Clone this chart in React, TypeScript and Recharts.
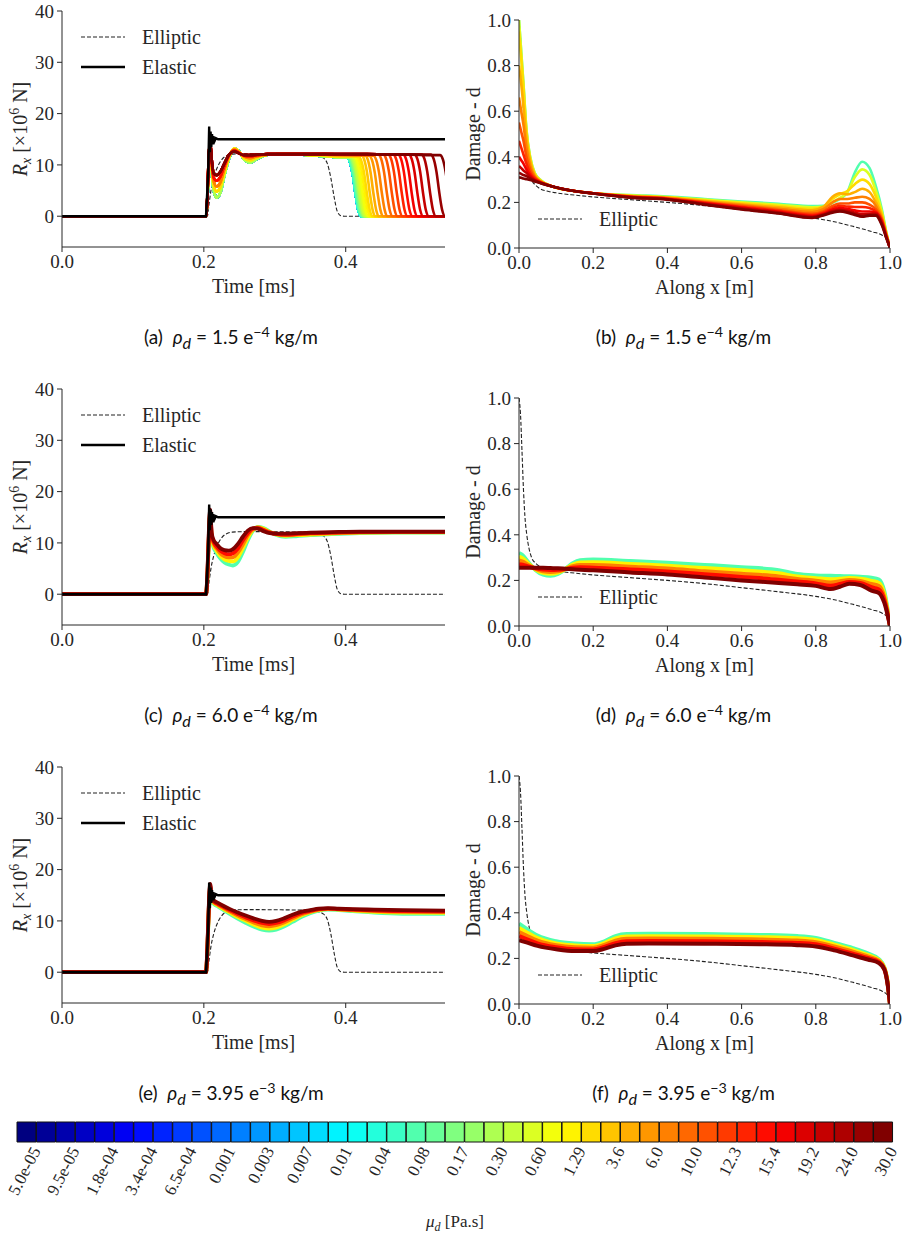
import React from "react";
import { LineChart, Line, XAxis, YAxis, BarChart, Bar, Cell } from "recharts";

const SERIF = '"Liberation Serif", "DejaVu Serif", serif';
const SANS = 'Lato, "Noto Sans", sans-serif';
const INK = "#262626";

// ---------- reaction force panels (a), (c), (e) ----------
const tElastic = [0, 0.2, 0.203, 0.206, 0.2075, 0.2085, 0.2095, 0.2105, 0.2115, 0.2125, 0.2135, 0.215, 0.217, 0.22, 0.23, 0.54];
const rxElastic = [0, 0, 0, 8, 17.5, 12.5, 16.5, 13.5, 16, 14, 15.6, 14.6, 15.2, 15, 15, 15];

const tElliptic = [0, 0.205, 0.207, 0.21, 0.214, 0.218, 0.224, 0.232, 0.24, 0.26, 0.34, 0.36, 0.368, 0.374, 0.379, 0.384, 0.388, 0.393, 0.398, 0.54];
const rxElliptic = [0, 0, 2, 5, 7.5, 9.2, 10.8, 11.8, 12.1, 12.2, 12.1, 11.8, 11.4, 10.3, 7.5, 3.5, 1, 0.1, 0, 0];

// (a): profile per colour group, then each curve falls off at its own time
const tA = [0, 0.2, 0.203, 0.205, 0.207, 0.209, 0.211, 0.214, 0.218, 0.223, 0.229, 0.236, 0.243, 0.25, 0.257, 0.265, 0.275, 0.29, 0.31, 0.34, 0.37, 0.4, 0.43, 0.46, 0.49, 0.52, 0.54];
const rxA0 = [0, 0, 0, 3, 10, 13.5, 9, 5, 3.6, 4.5, 8, 11.5, 13.2, 12.6, 11, 10.5, 11.2, 12, 12.1, 12, 11.7, 11.4, 11.2, 11.2, 11.1, 11.1, 11.1];
const rxA1 = [0, 0, 0, 3.5, 11, 14, 9.8, 6, 4.8, 5.6, 8.6, 11.7, 13.2, 12.5, 11.3, 10.9, 11.5, 12, 12.1, 12, 11.8, 11.6, 11.5, 11.4, 11.4, 11.3, 11.3];
const rxA2 = [0, 0, 0, 3.7, 11.5, 14.2, 10.3, 6.8, 5.8, 6.5, 9.2, 11.9, 13, 12.4, 11.6, 11.3, 11.7, 12, 12.1, 12.1, 12, 11.9, 11.8, 11.8, 11.7, 11.7, 11.7];
const rxA3 = [0, 0, 0, 4, 12, 14.4, 10.8, 7.5, 6.9, 7.6, 9.9, 12, 12.8, 12.3, 11.8, 11.7, 11.9, 12.1, 12.1, 12.1, 12.1, 12, 12, 12, 11.9, 11.9, 11.9];
const rxA4 = [0, 0, 0, 4, 12, 14.5, 11.2, 8.3, 8, 8.6, 10.3, 12.1, 12.6, 12.2, 11.9, 11.9, 12, 12.1, 12.1, 12.1, 12.1, 12.1, 12.1, 12, 12, 11.9, 11.8];
const groupA = [
  0, 0, 0, 0, 0, 0, 0, 0, 0, 0, 0, 0, 0, 0, 0, 0, 0, 0, 0, 0, 0, 0, 0, 0, 0,
  1, 1, 1, 1, 1, 2, 2, 2, 2, 3, 3, 3, 3, 3, 4, 4, 4, 4, 4, 4,
];
const dropA = [
  0.402, 0.402, 0.402, 0.402, 0.402, 0.402, 0.402, 0.402, 0.402, 0.402,
  0.402, 0.402, 0.402, 0.402, 0.402, 0.402, 0.402, 0.402, 0.402, 0.402,
  0.403, 0.404, 0.405, 0.406, 0.407, 0.408, 0.41, 0.412, 0.415, 0.418,
  0.422, 0.427, 0.433, 0.439, 0.446, 0.453, 0.46, 0.467, 0.474, 0.481,
  0.489, 0.497, 0.507, 0.52, 0.533,
];
const dropOff = [0, 0.004, 0.008, 0.012, 0.016, 0.02];
const dropFrac = [1, 0.93, 0.72, 0.38, 0.1, 0];

// (c)
const tC = [0, 0.2, 0.203, 0.205, 0.207, 0.209, 0.211, 0.214, 0.218, 0.223, 0.229, 0.235, 0.241, 0.248, 0.255, 0.262, 0.269, 0.276, 0.284, 0.293, 0.303, 0.315, 0.33, 0.35, 0.38, 0.42, 0.47, 0.54];
const rxC20 = [0, 0, 0, 3, 10, 15.5, 10.5, 9, 8, 7, 6.2, 5.8, 5.6, 6.3, 8.2, 10.5, 12.3, 13.1, 12.9, 12.2, 11.5, 11.2, 11.3, 11.5, 11.7, 11.9, 12, 12];
const rxC28 = [0, 0, 0, 3.2, 10.5, 15.7, 10.9, 9.4, 8.5, 7.5, 6.8, 6.5, 6.4, 7.2, 9, 11, 12.5, 13, 12.8, 12.1, 11.6, 11.4, 11.5, 11.6, 11.8, 12, 12.05, 12.05];
const rxC33 = [0, 0, 0, 3.5, 11, 16, 11.2, 9.8, 8.9, 8, 7.4, 7.2, 7.2, 8.1, 9.7, 11.5, 12.6, 13, 12.6, 12.1, 11.7, 11.5, 11.6, 11.8, 11.9, 12.05, 12.1, 12.1];
const rxC38 = [0, 0, 0, 3.8, 11.5, 16.2, 11.6, 10.1, 9.3, 8.5, 8, 7.8, 8, 8.9, 10.5, 11.9, 12.8, 12.9, 12.5, 12, 11.7, 11.6, 11.7, 11.9, 12, 12.1, 12.15, 12.15];
const rxC44 = [0, 0, 0, 4, 12, 16.5, 12, 10.5, 9.8, 9, 8.6, 8.5, 8.8, 9.8, 11.2, 12.4, 12.9, 12.8, 12.3, 11.9, 11.8, 11.8, 11.9, 12, 12.1, 12.2, 12.2, 12.2];

// (e)
const tE = [0, 0.2, 0.203, 0.205, 0.207, 0.209, 0.211, 0.214, 0.22, 0.228, 0.237, 0.247, 0.258, 0.27, 0.282, 0.292, 0.302, 0.313, 0.325, 0.338, 0.35, 0.362, 0.375, 0.39, 0.41, 0.44, 0.48, 0.54];
const rxE20 = [0, 0, 0, 4, 12, 16, 13.8, 13.3, 12.8, 12.1, 11.3, 10.5, 9.7, 8.9, 8.3, 8.1, 8.3, 8.9, 9.8, 10.8, 11.5, 12, 12.2, 12.1, 11.9, 11.6, 11.4, 11.4];
const rxE28 = [0, 0, 0, 4.25, 12.25, 16.3, 14, 13.5, 13, 12.3, 11.6, 10.8, 10.1, 9.3, 8.7, 8.5, 8.7, 9.3, 10.2, 11.1, 11.7, 12.1, 12.3, 12.2, 12, 11.75, 11.6, 11.55];
const rxE33 = [0, 0, 0, 4.5, 12.5, 16.6, 14.15, 13.65, 13.15, 12.5, 11.8, 11.1, 10.4, 9.7, 9.15, 8.95, 9.15, 9.7, 10.5, 11.3, 11.8, 12.2, 12.35, 12.25, 12.1, 11.9, 11.75, 11.7];
const rxE38 = [0, 0, 0, 4.75, 12.75, 16.9, 14.3, 13.8, 13.3, 12.7, 12.05, 11.4, 10.75, 10.1, 9.6, 9.4, 9.6, 10.1, 10.85, 11.55, 11.95, 12.3, 12.4, 12.3, 12.2, 12.05, 11.9, 11.85];
const rxE44 = [0, 0, 0, 5, 13, 17.2, 14.5, 14, 13.5, 12.9, 12.3, 11.7, 11.1, 10.5, 10, 9.8, 10, 10.5, 11.2, 11.8, 12.1, 12.4, 12.5, 12.4, 12.3, 12.2, 12.1, 12];

// ---------- damage panels (b), (d), (f) ----------
const xElliptic = [0, 0.004, 0.008, 0.012, 0.016, 0.021, 0.027, 0.034, 0.045, 0.057, 0.08, 0.1, 0.15, 0.2, 0.3, 0.4, 0.5, 0.6, 0.7, 0.8, 0.85, 0.9, 0.95, 0.98, 0.995, 1.0];
const dElliptic = [1.0, 0.93, 0.77, 0.6, 0.48, 0.4, 0.34, 0.3, 0.275, 0.26, 0.248, 0.242, 0.232, 0.224, 0.212, 0.2, 0.186, 0.168, 0.15, 0.13, 0.115, 0.095, 0.072, 0.055, 0.035, 0];

const xB = [0, 0.006, 0.012, 0.02, 0.03, 0.042, 0.06, 0.09, 0.14, 0.2, 0.3, 0.4, 0.5, 0.6, 0.7, 0.79, 0.82, 0.845, 0.865, 0.885, 0.905, 0.925, 0.945, 0.962, 0.978, 0.99, 1.0];
const dB20 = [1.0, 0.86, 0.72, 0.52, 0.4, 0.33, 0.295, 0.27, 0.252, 0.24, 0.232, 0.226, 0.215, 0.204, 0.194, 0.184, 0.185, 0.198, 0.215, 0.245, 0.33, 0.378, 0.35, 0.27, 0.17, 0.07, 0];
const dB26 = [1.0, 0.86, 0.72, 0.52, 0.4, 0.33, 0.295, 0.27, 0.252, 0.24, 0.231, 0.224, 0.212, 0.2, 0.19, 0.179, 0.181, 0.2, 0.22, 0.245, 0.31, 0.345, 0.32, 0.25, 0.16, 0.068, 0];
const dB29 = [0.95, 0.83, 0.7, 0.51, 0.39, 0.325, 0.293, 0.27, 0.252, 0.24, 0.229, 0.222, 0.209, 0.196, 0.184, 0.172, 0.18, 0.215, 0.235, 0.25, 0.28, 0.3, 0.28, 0.225, 0.15, 0.065, 0];
const dB31 = [0.8, 0.72, 0.62, 0.48, 0.38, 0.32, 0.29, 0.27, 0.252, 0.24, 0.228, 0.22, 0.206, 0.192, 0.178, 0.165, 0.18, 0.225, 0.24, 0.235, 0.245, 0.26, 0.245, 0.2, 0.14, 0.06, 0];
const dB33 = [0.66, 0.6, 0.54, 0.44, 0.36, 0.315, 0.29, 0.27, 0.252, 0.24, 0.227, 0.219, 0.203, 0.188, 0.172, 0.158, 0.17, 0.2, 0.215, 0.215, 0.22, 0.225, 0.215, 0.185, 0.13, 0.06, 0];
const dB35 = [0.55, 0.51, 0.47, 0.4, 0.345, 0.31, 0.288, 0.27, 0.252, 0.24, 0.226, 0.217, 0.2, 0.184, 0.167, 0.15, 0.16, 0.185, 0.195, 0.195, 0.2, 0.2, 0.19, 0.17, 0.125, 0.055, 0];
const dB37 = [0.47, 0.44, 0.41, 0.37, 0.33, 0.305, 0.287, 0.27, 0.252, 0.24, 0.225, 0.216, 0.198, 0.18, 0.163, 0.145, 0.155, 0.175, 0.185, 0.182, 0.18, 0.18, 0.175, 0.16, 0.12, 0.055, 0];
const dB39 = [0.4, 0.385, 0.37, 0.345, 0.32, 0.3, 0.286, 0.27, 0.252, 0.24, 0.224, 0.215, 0.196, 0.177, 0.159, 0.14, 0.15, 0.168, 0.175, 0.172, 0.165, 0.16, 0.16, 0.155, 0.115, 0.05, 0];
const dB41 = [0.36, 0.35, 0.34, 0.33, 0.312, 0.298, 0.285, 0.27, 0.252, 0.239, 0.223, 0.214, 0.194, 0.174, 0.156, 0.137, 0.147, 0.162, 0.168, 0.163, 0.155, 0.148, 0.15, 0.15, 0.11, 0.05, 0];
const dB43 = [0.33, 0.325, 0.32, 0.315, 0.305, 0.295, 0.284, 0.27, 0.252, 0.239, 0.222, 0.213, 0.192, 0.171, 0.153, 0.134, 0.145, 0.158, 0.163, 0.158, 0.148, 0.14, 0.145, 0.145, 0.105, 0.045, 0];
const dB44 = [0.31, 0.308, 0.305, 0.302, 0.298, 0.292, 0.283, 0.27, 0.252, 0.239, 0.221, 0.212, 0.19, 0.169, 0.151, 0.132, 0.143, 0.155, 0.16, 0.155, 0.145, 0.137, 0.142, 0.142, 0.1, 0.045, 0];

const xD = [0, 0.01, 0.025, 0.045, 0.065, 0.085, 0.105, 0.125, 0.145, 0.165, 0.2, 0.3, 0.4, 0.5, 0.6, 0.7, 0.75, 0.8, 0.84, 0.865, 0.89, 0.92, 0.95, 0.97, 0.985, 1.0];
const dD20 = [0.32, 0.31, 0.28, 0.245, 0.225, 0.22, 0.228, 0.25, 0.275, 0.288, 0.292, 0.285, 0.277, 0.268, 0.258, 0.245, 0.228, 0.222, 0.22, 0.219, 0.218, 0.216, 0.212, 0.204, 0.15, 0];
const dD28 = [0.304, 0.296, 0.274, 0.248, 0.233, 0.229, 0.234, 0.25, 0.269, 0.278, 0.28, 0.272, 0.264, 0.254, 0.244, 0.231, 0.217, 0.21, 0.205, 0.207, 0.21, 0.207, 0.198, 0.189, 0.138, 0];
const dD33 = [0.288, 0.283, 0.268, 0.25, 0.24, 0.237, 0.24, 0.25, 0.262, 0.268, 0.268, 0.26, 0.252, 0.24, 0.229, 0.217, 0.206, 0.199, 0.191, 0.196, 0.202, 0.198, 0.184, 0.175, 0.125, 0];
const dD38 = [0.271, 0.269, 0.261, 0.253, 0.248, 0.246, 0.247, 0.25, 0.256, 0.258, 0.256, 0.248, 0.239, 0.227, 0.215, 0.203, 0.195, 0.187, 0.177, 0.184, 0.193, 0.189, 0.17, 0.16, 0.113, 0];
const dD44 = [0.255, 0.255, 0.255, 0.255, 0.255, 0.254, 0.253, 0.251, 0.249, 0.247, 0.244, 0.235, 0.226, 0.213, 0.2, 0.189, 0.183, 0.176, 0.162, 0.172, 0.185, 0.18, 0.155, 0.145, 0.1, 0];

const xF = [0, 0.02, 0.05, 0.1, 0.15, 0.2, 0.23, 0.26, 0.29, 0.35, 0.5, 0.65, 0.75, 0.8, 0.85, 0.9, 0.94, 0.97, 0.985, 0.995, 1.0];
const dF20 = [0.352, 0.33, 0.3, 0.275, 0.265, 0.262, 0.275, 0.298, 0.307, 0.308, 0.307, 0.303, 0.298, 0.29, 0.268, 0.245, 0.222, 0.197, 0.16, 0.08, 0];
const dF28 = [0.334, 0.315, 0.289, 0.266, 0.257, 0.254, 0.267, 0.288, 0.296, 0.297, 0.296, 0.293, 0.288, 0.281, 0.26, 0.237, 0.215, 0.193, 0.158, 0.078, 0];
const dF33 = [0.316, 0.3, 0.278, 0.258, 0.249, 0.247, 0.259, 0.278, 0.286, 0.287, 0.286, 0.283, 0.278, 0.271, 0.252, 0.229, 0.209, 0.189, 0.155, 0.075, 0];
const dF38 = [0.298, 0.285, 0.266, 0.249, 0.24, 0.239, 0.25, 0.267, 0.275, 0.276, 0.275, 0.272, 0.268, 0.262, 0.243, 0.221, 0.202, 0.184, 0.153, 0.073, 0];
const dF44 = [0.28, 0.27, 0.255, 0.24, 0.232, 0.232, 0.242, 0.257, 0.264, 0.265, 0.264, 0.262, 0.258, 0.252, 0.235, 0.213, 0.195, 0.18, 0.15, 0.07, 0];

// colour index (0..44 on the colorbar) of each drawn curve
const bandIdx = [20, 28, 33, 38, 44];
const bIdx = [20, 26, 29, 31, 33, 35, 37, 39, 41, 43, 44];

// ---------- captions & colorbar ----------
const panelTags = ["a", "b", "c", "d", "e", "f"];
const rhoVals = ["1.5", "6.0", "3.95"];
const rhoExps = ["−4", "−4", "−3"];
const muLabels = [
  "5.0e-05", "9.5e-05", "1.8e-04", "3.4e-04", "6.5e-04", "0.001", "0.003", "0.007",
  "0.01", "0.04", "0.08", "0.17", "0.30", "0.60", "1.29", "3.6", "6.0", "10.0",
  "12.3", "15.4", "19.2", "24.0", "30.0",
];

// ---------- helpers ----------
type Pt = { x: number; y: number };
type Trace = { key: string; pts: Pt[]; color: string; width: number; dash?: string; kind?: "monotone" | "linear" };

// matplotlib "jet" for colour slot i of 45
function jet(i: number) {
  const v = i / 44;
  const c = (k: number) => Math.round(255 * Math.max(0, Math.min(1, 1.5 - Math.abs(4 * v - k))));
  return `rgb(${c(3)},${c(2)},${c(1)})`;
}

const zip = (xs: number[], ys: number[]): Pt[] => xs.map((x, i) => ({ x, y: ys[i] }));

const rxA = [rxA0, rxA1, rxA2, rxA3, rxA4];
const curvesA: Pt[][] = dropA.map((start, i) => {
  const prof = rxA[groupA[i]];
  const pts: Pt[] = [];
  let level = 0;
  tA.forEach((t, k) => {
    if (t < start) {
      pts.push({ x: t, y: prof[k] });
      level = prof[k];
    }
  });
  dropOff.forEach((o, k) => pts.push({ x: start + o, y: level * dropFrac[k] }));
  pts.push({ x: 0.6, y: 0 });
  return pts;
});

const ellipticL: Trace = { key: "ell", pts: zip(tElliptic, rxElliptic), color: "#222", width: 1.1, dash: "4 2" };
const elasticL: Trace = { key: "elas", pts: zip(tElastic, rxElastic), color: "#000", width: 2.4, kind: "linear" };
const ellipticR: Trace = { key: "ell", pts: zip(xElliptic, dElliptic), color: "#222", width: 1.1, dash: "4 2" };

const colored = (xs: number[], rows: number[][], idx: number[], width: number): Trace[] =>
  rows.map((ys, k) => ({ key: "c" + idx[k], pts: zip(xs, ys), color: jet(idx[k]), width }));

const tracesA: Trace[] = [
  ellipticL,
  ...curvesA.map((pts, i) => ({ key: "a" + i, pts, color: jet(i), width: 2.6 })),
  elasticL,
];
const tracesC = [ellipticL, ...colored(tC, [rxC20, rxC28, rxC33, rxC38, rxC44], bandIdx, 3.8), elasticL];
const tracesE = [ellipticL, ...colored(tE, [rxE20, rxE28, rxE33, rxE38, rxE44], bandIdx, 3.8), elasticL];
const tracesB = [ellipticR, ...colored(xB, [dB20, dB26, dB29, dB31, dB33, dB35, dB37, dB39, dB41, dB43, dB44], bIdx, 2.6)];
const tracesD = [ellipticR, ...colored(xD, [dD20, dD28, dD33, dD38, dD44], bandIdx, 4)];
const tracesF = [ellipticR, ...colored(xF, [dF20, dF28, dF33, dF38, dF44], bandIdx, 4)];

const ROW = 378;
const MT = 12;
const MR = 15;
const XH = 60;
const tickStyle = { fontFamily: SERIF, fontSize: 19, fill: INK };

function Plot(props: {
  plotLeft: number; plotTop: number; plotW: number; plotH: number; yw: number;
  xDomain: [number, number]; yDomain: [number, number]; xTicks: number[]; yTicks: number[];
  yFmt: (v: number) => string; traces: Trace[]; xLabel: string; yLabel: (x: number, y: number) => React.ReactElement;
  yLabelX: number;
}) {
  const { plotLeft, plotTop, plotW, plotH, yw, xDomain, yDomain, xTicks, yTicks, yFmt, traces, xLabel, yLabel, yLabelX } = props;
  const w = yw + plotW + MR;
  const h = MT + plotH + XH;
  return (
    <div style={{ position: "absolute", left: plotLeft - yw, top: plotTop - MT }}>
      <LineChart width={w} height={h} margin={{ top: MT, right: MR, bottom: 0, left: 0 }}>
        <XAxis
          dataKey="x" type="number" domain={xDomain} ticks={xTicks} allowDataOverflow
          tickFormatter={(v) => Number(v).toFixed(1)} height={XH} tickSize={5} tickMargin={3}
          stroke={INK} tick={tickStyle}
          label={() => (
            <text x={yw + plotW / 2} y={MT + plotH + 46} textAnchor="middle" fontFamily={SERIF} fontSize={20} fill={INK}>
              {xLabel}
            </text>
          )}
        />
        <YAxis
          type="number" domain={yDomain} ticks={yTicks} allowDataOverflow width={yw}
          tickSize={5} tickMargin={3} stroke={INK} tick={tickStyle} tickFormatter={yFmt}
          label={() => yLabel(yLabelX, MT + plotH / 2)}
        />
        <XAxis xAxisId="top" orientation="top" type="number" domain={xDomain} height={0} tick={false} tickLine={false} stroke={INK} />
        <YAxis yAxisId="right" orientation="right" type="number" domain={yDomain} width={0} tick={false} tickLine={false} stroke={INK} />
        {traces.map((t) => (
          <Line
            key={t.key} data={t.pts} dataKey="y" type={t.kind ?? "monotone"} stroke={t.color}
            strokeWidth={t.width} strokeDasharray={t.dash} dot={false} activeDot={false}
            isAnimationActive={false}
          />
        ))}
      </LineChart>
    </div>
  );
}

const rxLabel = (x: number, y: number) => (
  <text x={x} y={y} transform={`rotate(-90, ${x}, ${y})`} textAnchor="middle" fontFamily={SERIF} fontSize={20} fill={INK}>
    <tspan fontStyle="italic">R</tspan>
    <tspan fontStyle="italic" fontSize={14} dy={4}>x</tspan>
    <tspan dy={-4}> [×10</tspan>
    <tspan fontSize={14} dy={-8}>6</tspan>
    <tspan dy={8}> N]</tspan>
  </text>
);

const dmgLabel = (x: number, y: number) => (
  <text x={x} y={y} transform={`rotate(-90, ${x}, ${y})`} textAnchor="middle" fontFamily={SERIF} fontSize={20} fill={INK}>
    Damage - d
  </text>
);

function Key({ left, top, rows }: { left: number; top: number; rows: { label: string; dash: boolean }[] }) {
  return (
    <>
      {rows.map((r, i) => (
        <div key={r.label} style={{ position: "absolute", left, top: top + i * 30 - 12, height: 24, display: "flex", alignItems: "center" }}>
          <svg width={44} height={6} style={{ display: "block" }}>
            <line x1={0} y1={3} x2={44} y2={3} stroke={r.dash ? "#222" : "#000"} strokeWidth={r.dash ? 1.1 : 2.4} strokeDasharray={r.dash ? "4 2" : undefined} />
          </svg>
          <span style={{ marginLeft: 17, fontFamily: SERIF, fontSize: 20, color: INK, lineHeight: "24px" }}>{r.label}</span>
        </div>
      ))}
    </>
  );
}

function Caption({ n }: { n: number }) {
  const row = Math.floor(n / 2);
  const right = n % 2 === 1;
  return (
    <div
      style={{
        position: "absolute", left: right ? 462 : 0, width: right ? 443 : 462, top: 319 + row * ROW,
        textAlign: "center", fontFamily: SANS, fontSize: 19, color: "#111", whiteSpace: "nowrap", lineHeight: "26px",
      }}
    >
      ({panelTags[n]})&nbsp;&nbsp;<i>ρ<sub style={{ fontSize: "0.85em" }}>d</sub></i> = {rhoVals[row]} e
      <sup style={{ fontSize: "0.75em" }}>{rhoExps[row]}</sup> kg/m
    </div>
  );
}

const cbCells = muLabels.flatMap((_, i) => (i < muLabels.length - 1 ? [2 * i, 2 * i + 1] : [2 * i])).map((k) => ({ k, v: 1 }));

function MuTick(props: any) {
  const { x, payload } = props;
  const i = Number(payload.value);
  if (i % 2 !== 0) return <g />;
  const ax = x + 9;
  const ay = 38;
  return (
    <text x={ax} y={ay} transform={`rotate(-63, ${ax}, ${ay})`} textAnchor="end" dy="0.35em" fontFamily={SERIF} fontSize={17} fill={INK}>
      {muLabels[i / 2]}
    </text>
  );
}

function Colorbar() {
  return (
    <div style={{ position: "absolute", left: 0, top: 1110 }}>
      <BarChart width={905} height={125} data={cbCells} margin={{ top: 12, right: 12, left: 17, bottom: 0 }} barCategoryGap={0} barGap={0}>
        <XAxis
          dataKey="k" type="category" interval={0} tickLine={false} axisLine={false} height={93} tick={<MuTick />}
          label={() => (
            <text x={455} y={117} textAnchor="middle" fontFamily={SERIF} fontSize={17} fill={INK}>
              <tspan fontStyle="italic">μ</tspan>
              <tspan fontStyle="italic" fontSize={12} dy={4}>d</tspan>
              <tspan dy={-4}> [Pa.s]</tspan>
            </text>
          )}
        />
        <YAxis hide domain={[0, 1]} />
        <Bar dataKey="v" isAnimationActive={false} stroke="#111" strokeWidth={1}>
          {cbCells.map((c) => (
            <Cell key={c.k} fill={jet(c.k)} />
          ))}
        </Bar>
      </BarChart>
    </div>
  );
}

export default function App() {
  const left = {
    plotLeft: 62, plotW: 383, plotH: 236, yw: 62,
    xDomain: [0, 0.54] as [number, number], yDomain: [-6, 40] as [number, number],
    xTicks: [0, 0.2, 0.4], yTicks: [0, 10, 20, 30, 40], yFmt: (v: number) => String(v),
    xLabel: "Time [ms]", yLabel: rxLabel, yLabelX: 27,
  };
  const right = {
    plotLeft: 519, plotW: 371, plotH: 228, yw: 70,
    xDomain: [0, 1] as [number, number], yDomain: [0, 1] as [number, number],
    xTicks: [0, 0.2, 0.4, 0.6, 0.8, 1], yTicks: [0, 0.2, 0.4, 0.6, 0.8, 1], yFmt: (v: number) => v.toFixed(1),
    xLabel: "Along x [m]", yLabel: dmgLabel, yLabelX: 31,
  };
  const leftTraces = [tracesA, tracesC, tracesE];
  const rightTraces = [tracesB, tracesD, tracesF];
  return (
    <div style={{ position: "absolute", left: 0, top: 0, width: 905, height: 1239, background: "#fff", overflow: "hidden" }}>
      {[0, 1, 2].map((r) => (
        <React.Fragment key={r}>
          <Plot {...left} plotTop={11 + r * ROW} traces={leftTraces[r]} />
          <Plot {...right} plotTop={20 + r * ROW} traces={rightTraces[r]} />
          <Key left={81} top={37 + r * ROW} rows={[{ label: "Elliptic", dash: true }, { label: "Elastic", dash: false }]} />
          <Key left={538} top={219 + r * ROW} rows={[{ label: "Elliptic", dash: true }]} />
          <Caption n={2 * r} />
          <Caption n={2 * r + 1} />
        </React.Fragment>
      ))}
      <Colorbar />
    </div>
  );
}
